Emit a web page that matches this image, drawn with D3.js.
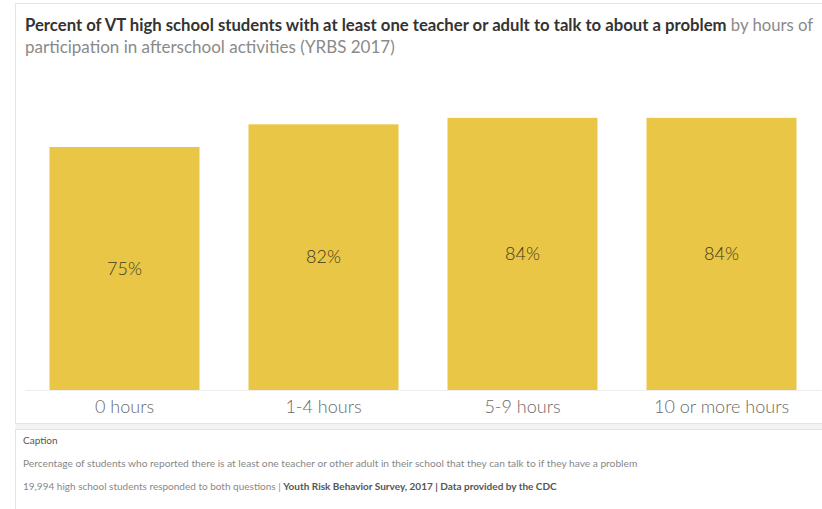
<!DOCTYPE html>
<html>
<head>
<meta charset="utf-8">
<script src="https://cdn.jsdelivr.net/npm/d3@7"></script>
<style>
  html, body { margin: 0; padding: 0; background: #fff; }
  svg { display: block; font-family: Lato, "Open Sans", sans-serif; }
</style>
</head>
<body>
<svg id="chart" width="822" height="509"></svg>
<script>
// Afterschool participation categories and share of students with a trusted adult
const categories = ["0 hours", "1-4 hours", "5-9 hours", "10 or more hours"];
const percents = [75, 82, 84, 84];
const valueLabels = ["75%", "82%", "84%", "84%"];

const titleBold = "Percent of VT high school students with at least one teacher or adult to talk to about a problem";
const titleRest = " by hours of";
const titleLine2 = "participation in afterschool activities (YRBS 2017)";
const captionHead = "Caption";
const captionLine1 = "Percentage of students who reported there is at least one teacher or other adult in their school that they can talk to if they have a problem";
const captionLine2Plain = "19,994 high school students responded to both questions | ";
const captionLine2Bold = "Youth Risk Behavior Survey, 2017 | Data provided by the CDC";

const W = 822, H = 509;
const svg = d3.select("#chart");

// Dashboard panels
svg.append("rect").attr("x", 15.5).attr("y", 3.5).attr("width", W).attr("height", 420)
  .attr("fill", "#fff").attr("stroke", "#e4e4e4");
svg.append("rect").attr("x", 15.5).attr("y", 424).attr("width", W).attr("height", 5)
  .attr("fill", "#f3f3f3");
svg.append("rect").attr("x", 15.5).attr("y", 429.5).attr("width", W).attr("height", 90)
  .attr("fill", "#fff").attr("stroke", "#e4e4e4");

// Title
const title = svg.append("text").attr("x", 25).attr("y", 31).attr("font-size", 16.7);
title.append("tspan").attr("font-weight", 700).attr("fill", "#333").text(titleBold);
title.append("tspan").attr("fill", "#8a8a8a").text(titleRest);
svg.append("text").attr("x", 25).attr("y", 53).attr("font-size", 17)
  .attr("fill", "#8a8a8a").text(titleLine2);

// Scales
const x = d3.scaleBand().domain(categories).range([25, 821])
  .paddingInner(49 / 199).paddingOuter(49 / 398);
const y = d3.scaleLinear().domain([0, 100]).range([390, 66]);

const rows = categories.map((c, i) => ({ c, v: percents[i], label: valueLabels[i] }));

// Bars
svg.append("g").selectAll("rect").data(rows).join("rect")
  .attr("x", d => x(d.c))
  .attr("y", d => y(d.v))
  .attr("width", x.bandwidth())
  .attr("height", d => y(0) - y(d.v))
  .attr("fill", "#E9C645");

// Value labels centred in each bar
svg.append("g").selectAll("text").data(rows).join("text")
  .attr("x", d => x(d.c) + x.bandwidth() / 2)
  .attr("y", d => (y(d.v) + y(0)) / 2)
  .attr("dy", "0.35em")
  .attr("text-anchor", "middle")
  .attr("font-size", 18)
  .attr("font-weight", 300)
  .attr("fill", "#3f3a22")
  .text(d => d.label);

// Category axis
const xAxis = svg.append("g").attr("transform", `translate(0,${y(0)})`)
  .call(d3.axisBottom(x).tickSize(0).tickPadding(10));
xAxis.select(".domain").attr("stroke", "#eeeeee");
xAxis.selectAll("text").attr("font-size", 18).attr("fill", "#6a6a6a")
  .attr("font-family", "Lato, sans-serif").attr("font-weight", 300);

// Caption block
svg.append("text").attr("x", 23).attr("y", 444).attr("font-size", 10)
  .attr("fill", "#555").text(captionHead);
svg.append("text").attr("x", 23).attr("y", 467).attr("font-size", 10.2)
  .attr("fill", "#888").text(captionLine1);
const cap2 = svg.append("text").attr("x", 23).attr("y", 490).attr("font-size", 10).attr("fill", "#888");
cap2.append("tspan").text(captionLine2Plain);
cap2.append("tspan").attr("font-weight", 700).attr("fill", "#555").text(captionLine2Bold);
</script>
</body>
</html>
